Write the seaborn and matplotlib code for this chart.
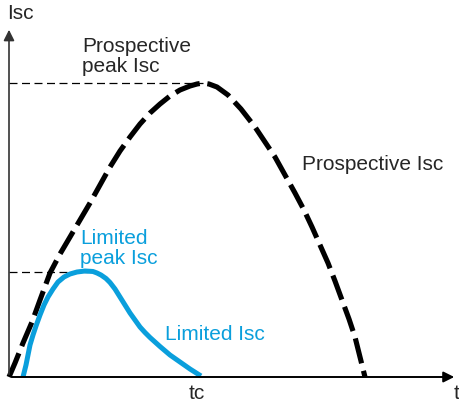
import matplotlib
matplotlib.use("Agg")
import matplotlib.pyplot as plt
import numpy as np
import seaborn as sns

# curves (t, Isc) in picture units
prospective_t = [0, 6, 14, 23, 31, 41, 51, 61, 71, 81, 91, 101, 111, 121, 131, 141,
                 151, 161, 171, 181, 188, 194, 200, 208, 219, 232, 246, 256, 266, 276,
                 286, 295, 303, 311, 319, 326, 333, 340, 346, 351, 356]
prospective_isc = [0, 14, 34, 55, 77, 104, 123, 140, 157, 174, 192, 210, 226, 240,
                   253, 264, 273, 281, 287, 291, 293, 294, 293, 290, 282, 268, 250, 235,
                   220, 202, 184, 167, 150, 132, 114, 96, 77, 58, 40, 20, 0]

limited_t = [14, 17, 19, 21, 24, 27, 31, 35, 39, 44, 49, 55, 61, 68, 76, 84, 88, 92, 97,
             101, 106, 111, 116, 121, 126, 131, 136, 141, 146, 151, 161, 171, 181, 192]
limited_isc = [0, 12, 22, 32, 42, 51, 62, 72, 80, 88, 95, 100, 103, 105, 106, 105.5, 104,
               102, 98.5, 94.5, 88, 80, 72, 64, 57, 50, 44.5, 39.5, 35, 30.5, 22, 15, 8, 1]

prospective_peak = (194, 294)
limited_peak = (79, 105)

blue = "#0a9fdc"

sns.set_style("white")
plt.rcParams["font.family"] = ["Liberation Sans", "DejaVu Sans"]

fig = plt.figure(figsize=(4.59, 3.99), dpi=100)
ax = fig.add_axes([0, 0, 1, 1])
ax.set_xlim(-9, 450)
ax.set_ylim(-22, 377)
ax.axis("off")

# reference dashed lines to the peaks
for px, py in [prospective_peak, limited_peak]:
    ax.plot([0, px], [py, py], color="black", lw=0.9, dashes=[6.4, 3.6])

sns.lineplot(x=prospective_t, y=prospective_isc, sort=False, color="black", lw=3.7, ax=ax)
ax.lines[-1].set_dashes([5.0, 1.5])
ax.lines[-1].set_dash_capstyle("butt")
ax.lines[-1].set_dash_joinstyle("round")

sns.lineplot(x=limited_t, y=limited_isc, sort=False, color=blue, lw=3.6, ax=ax)
ax.lines[-1].set_solid_joinstyle("round")
ax.lines[-1].set_solid_capstyle("butt")

# axes with arrows
ax.annotate("", xy=(0, 350), xytext=(0, 0),
            arrowprops=dict(arrowstyle="-|>", color="#333333", lw=1.2, mutation_scale=16))
ax.annotate("", xy=(448, 0), xytext=(0, 0),
            arrowprops=dict(arrowstyle="-|>", color="black", lw=1.4, mutation_scale=16))

fs = 15
ax.text(-2, 354, "Isc", fontsize=fs, va="bottom", ha="left")
ax.text(448, -7, "t", fontsize=fs, va="top", ha="center")
ax.text(188, -7, "tc", fontsize=fs, va="top", ha="center")
ax.text(73, 340, "Prospective\npeak Isc", fontsize=fs, va="top", ha="left", linespacing=1.1)
ax.text(293, 212, "Prospective Isc", fontsize=fs, va="center", ha="left")
ax.text(71, 148, "Limited\npeak Isc", fontsize=fs, va="top", ha="left", color=blue,
        linespacing=1.1)
ax.text(156, 42, "Limited Isc", fontsize=fs, va="center", ha="left", color=blue)

fig.savefig("out.png", dpi=100)
